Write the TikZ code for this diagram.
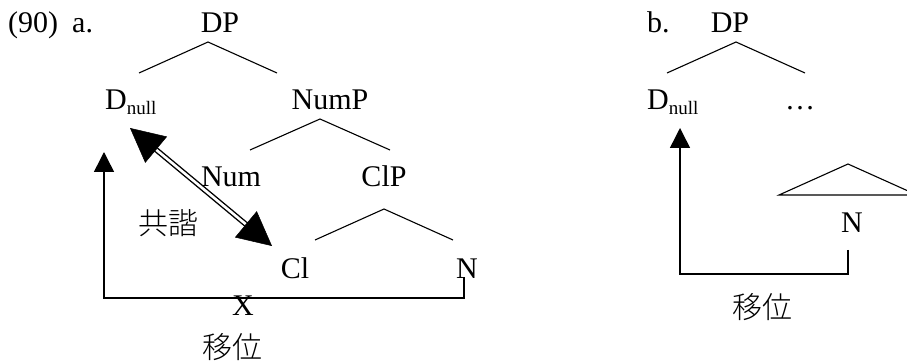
\documentclass[tikz,border=0pt]{standalone}
\usepackage{fontspec}
\setmainfont{Liberation Serif}
\newfontfamily\cjk{Noto Sans CJK JP}[UprightFont={* Light}]
\usetikzlibrary{arrows.meta,calc}
\newcommand\dnulltext{D\raisebox{-5pt}{\fontsize{19}{19}\selectfont null}}

\begin{document}
\begin{tikzpicture}[x=1pt,y=-1pt,
  lbl/.style={inner sep=0pt, anchor=base, font=\fontsize{30}{30}\selectfont},
  cjklbl/.style={inner sep=0pt, font=\fontsize{30}{30}\selectfont\cjk},
  branch/.style={line width=1.1pt},
  move/.style={line width=1.5pt, -{Triangle[length=20pt,width=20pt]}},
  agreeline/.style={double, double distance=2.6pt, line width=1.4pt},
  bighead/.style={-{Triangle[length=34pt,width=34pt]}, line width=0.5pt}]
\clip (0,0) rectangle (907,363);

% ---------- (90a) ----------
\node[lbl, anchor=base west] (ex) at (8,33) {(90)};
\node[lbl, anchor=base west] (alab) at (72,33) {a.};
\node[lbl] (DPa) at (220,33) {DP};
\node[lbl, anchor=base west] (Dnulla) at (105,110) {\dnulltext};
\node[lbl] (NumP) at (330,110) {NumP};
\node[lbl] (Num) at (231,187) {Num};
\node[lbl] (ClP) at (384,187) {ClP};
\node[lbl] (Cl) at (295,278) {Cl};
\node[lbl] (Na) at (467,278) {N};
\node[lbl] (X) at (243,315) {X};
\node[cjklbl] (moveA) at (232,347) {移位};
\node[cjklbl] (agree) at (168,223) {共諧};

% branches
\coordinate (DPaL) at (139,73);  \coordinate (DPaT) at (208,42);  \coordinate (DPaR) at (277,73);
\coordinate (NumPL) at (250,150); \coordinate (NumPT) at (320,119); \coordinate (NumPR) at (390,150);
\coordinate (ClPL) at (315,240); \coordinate (ClPT) at (384,209); \coordinate (ClPR) at (453,240);
\draw[branch] (DPaL) -- (DPaT) -- (DPaR);
\draw[branch] (NumPL) -- (NumPT) -- (NumPR);
\draw[branch] (ClPL) -- (ClPT) -- (ClPR);

% movement of N to D (blocked)
\coordinate (mvAfrom) at (464,277);
\coordinate (mvAlow) at (464,298);
\coordinate (mvAto) at (104,152);
\draw[move] (mvAfrom) -- (mvAlow) -| (mvAto);

% agreement between D and Cl
\coordinate (agTop) at (130,128);
\coordinate (agBot) at (272,246);
\draw[agreeline, shorten <=30pt, shorten >=30pt] (agTop) -- (agBot);
\draw[bighead] ($(agTop)!34pt!(agBot)$) -- (agTop);
\draw[bighead] ($(agBot)!34pt!(agTop)$) -- (agBot);

% ---------- (90b) ----------
\node[lbl, anchor=base west] (blab) at (647,33) {b.};
\node[lbl] (DPb) at (730,33) {DP};
\node[lbl, anchor=base west] (Dnullb) at (647,110) {\dnulltext};
\node[lbl] (dots) at (800,110) {\ldots};
\node[lbl] (Nb) at (852,233) {N};
\node[cjklbl] (moveB) at (762,307) {移位};

\coordinate (DPbL) at (667,73); \coordinate (DPbT) at (736,42); \coordinate (DPbR) at (805,73);
\draw[branch] (DPbL) -- (DPbT) -- (DPbR);
\coordinate (triL) at (779,195); \coordinate (triT) at (848,164); \coordinate (triR) at (917,195);
\draw[branch] (triL) -- (triT) -- (triR) -- cycle;

\coordinate (mvBfrom) at (848,250);
\coordinate (mvBlow) at (848,274);
\coordinate (mvBto) at (680,128);
\draw[move] (mvBfrom) -- (mvBlow) -| (mvBto);
\end{tikzpicture}
\end{document}
